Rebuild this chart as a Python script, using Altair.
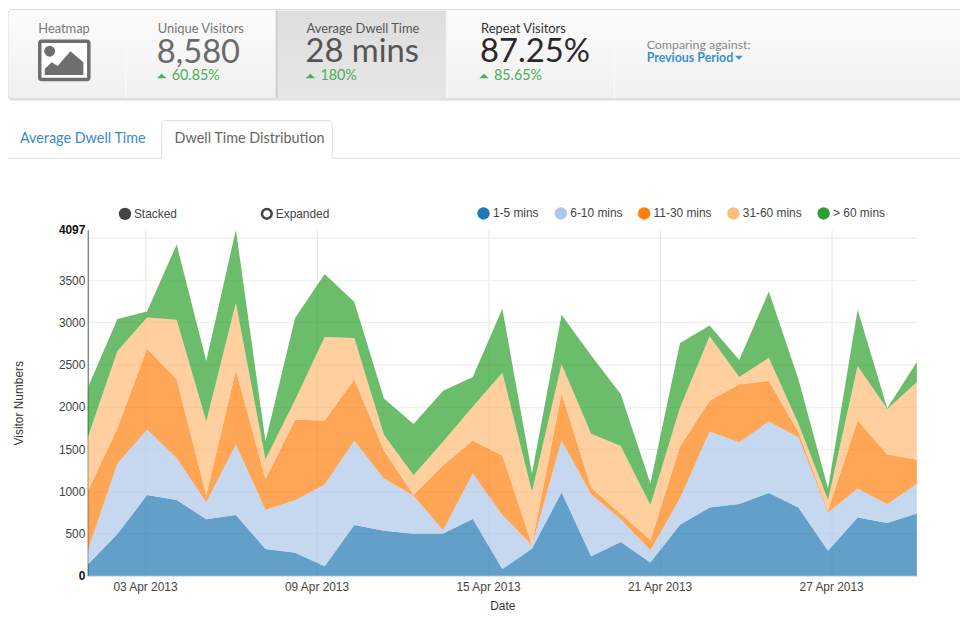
import altair as alt
import pandas as pd

series_names = ["1-5 mins", "6-10 mins", "11-30 mins", "31-60 mins", "> 60 mins"]
series_colors = ["#1f77b4", "#aec7e8", "#ff7f0e", "#ffbb78", "#2ca02c"]
mins_1_5 = [133, 494, 955, 897, 670, 720, 317, 274, 114, 600, 533, 497, 501, 673, 79, 321, 987, 231, 400, 156, 603, 807, 850, 979, 807, 297, 690, 626, 737]
mins_6_10 = [169, 834, 776, 497, 200, 831, 466, 619, 967, 998, 619, 451, 39, 537, 641, 40, 615, 733, 270, 146, 314, 901, 732, 846, 834, 453, 344, 220, 352]
mins_11_30 = [698, 422, 956, 929, 80, 881, 360, 955, 756, 725, 332, 7, 768, 388, 705, 4, 556, 78, 60, 118, 613, 364, 686, 482, 59, 20, 803, 591, 286]
mins_31_60 = [641, 910, 372, 709, 875, 796, 235, 232, 991, 493, 185, 235, 282, 402, 980, 630, 345, 638, 805, 418, 460, 764, 86, 274, 100, 127, 646, 537, 920]
mins_60_up = [588, 380, 71, 889, 717, 869, 216, 971, 744, 424, 431, 608, 600, 354, 756, 215, 587, 928, 615, 255, 767, 128, 199, 783, 527, 137, 666, 8, 235]
all_series = [mins_1_5, mins_6_10, mins_11_30, mins_31_60, mins_60_up]
dates = pd.date_range("2013-04-01", "2013-04-30", periods=29)
y_ticks = [0, 500, 1000, 1500, 2000, 2500, 3000, 3500, 4000, 4097]
x_tick_days = [3, 9, 15, 21, 27]

rows = []
for rank, (name, vals) in enumerate(zip(series_names, all_series)):
    for d, v in zip(dates, vals):
        rows.append({"date": d.strftime("%Y-%m-%dT%H:%M:%S"), "series": name, "rank": rank, "value": v})
df = pd.DataFrame(rows)

OX, OY = 88.5, 229.0
FONT = "Liberation Sans"
HEAD = "Lato"
one = pd.DataFrame({"n": [0]})


def rect(x0, y0, x1, y1, **kw):
    return alt.Chart(one).mark_rect(**kw).encode(
        x=alt.value(x0 - OX), x2=alt.value(x1 - OX), y=alt.value(y0 - OY), y2=alt.value(y1 - OY))


def text(s, x, y, size, color, font=HEAD, weight="normal", align="left"):
    return alt.Chart(one).mark_text(text=s, font=font, fontSize=size, color=color, fontWeight=weight,
                                    align=align, baseline="middle").encode(x=alt.value(x - OX), y=alt.value(y - OY))


def glyph(x, y, shape, size, color, **kw):
    return alt.Chart(one).mark_point(shape=shape, size=size, **kw).encode(
        x=alt.value(x - OX), y=alt.value(y - OY), color=alt.value(color))


def vgrad(a, b):
    return alt.Gradient(gradient="linear", x1=0, y1=0, x2=0, y2=1,
                        stops=[alt.GradientStop(offset=0, color=a), alt.GradientStop(offset=1, color=b)])


UP = "M-1,0.5L0,-0.5L1,0.5Z"
DOWN = "M-1,-0.5L0,0.5L1,-0.5Z"
MOUNTAIN = "M-1,0.615L-1,0.31L-0.64,-0.05L-0.33,0.15L0.33,-0.615L1,-0.05L1,0.615Z"
GREEN = "#4cae58"

header = [
    rect(8, 9, 975, 99, fill="#e4e4e4", cornerRadius=4),
    rect(8, 7, 975, 97, fill=vgrad("#fcfcfc", "#f0f0f0"), stroke="#dcdcdc", strokeWidth=1, cornerRadius=4),
    rect(278, 8, 451, 96.5, fill=vgrad("#dedede", "#e6e6e6")),
    rect(278, 8, 280, 96.5, fill="#cfcfcf"),
    rect(449.5, 8, 451.5, 96.5, fill="#f6f6f6"),
    rect(126.5, 8, 127.5, 96.5, fill="#fafafa"),
    rect(619, 8, 620, 96.5, fill="#fafafa"),
    text("Heatmap", 38.5, 27, 13, "#777777"),
    rect(40, 39, 89.5, 77.5, fill="#ffffff", stroke="#6e6e6e", strokeWidth=3.5, cornerRadius=2),
    glyph(50, 49, "circle", 120, "#6e6e6e", filled=True, opacity=1),
    glyph(64.5, 61, MOUNTAIN, 1521, "#6e6e6e", filled=True, opacity=1),
    text("Unique Visitors", 159, 27, 13, "#777777"),
    text("8,580", 158, 51, 33, "#6a6a6a"),
    glyph(163, 74, UP, 90, GREEN, filled=True, opacity=1),
    text("60.85%", 173, 74, 14.5, GREEN),
    text("Average Dwell Time", 309, 27, 13, "#555555"),
    text("28 mins", 308, 50, 33, "#555555"),
    glyph(313, 74, UP, 90, GREEN, filled=True, opacity=1),
    text("180%", 323, 74, 14.5, GREEN),
    text("Repeat Visitors", 485, 27, 13, "#333333"),
    text("87.25%", 484, 50, 33, "#2a2a2a"),
    glyph(488, 74, UP, 90, GREEN, filled=True, opacity=1),
    text("85.65%", 498, 74, 14.5, GREEN),
    text("Comparing against:", 652, 43, 12.5, "#888888"),
    text("Previous Period", 652, 56, 12.5, "#3a8fd2", weight="bold"),
    glyph(745, 55.5, DOWN, 64, "#3a8fd2", filled=True, opacity=1),
    rect(6, 156.5, 975, 157.5, fill="#e0e0e0"),
    rect(163, 119, 335, 158, fill="#ffffff", stroke="#dddddd", strokeWidth=1, cornerRadius=3),
    rect(163.5, 155.5, 334.5, 159, fill="#ffffff"),
    text("Average Dwell Time", 20, 137.5, 14.5, "#3a8ac4"),
    text("Dwell Time Distribution", 176, 137.5, 14.5, "#666666"),
    glyph(126, 213, "circle", 156, "#444444", filled=True, opacity=1),
    text("Stacked", 135, 213.5, 12, "#444444", font=FONT),
    alt.Chart(one).mark_point(shape="circle", size=95, filled=False, stroke="#444444", strokeWidth=2.5, opacity=1).encode(
        x=alt.value(269 - OX), y=alt.value(213 - OY)),
    text("Expanded", 278, 213.5, 12, "#444444", font=FONT),
]

bold_test = "datum.value == 4097 || datum.value == 0"
areas = (
    alt.Chart(df)
    .transform_stack(stack="value", groupby=["date"], sort=[alt.SortField("rank", order="ascending")], as_=["y0", "y1"])
    .mark_area(opacity=0.7, interpolate="linear")
    .encode(
        x=alt.X(
            "date:T",
            title="Date",
            scale=alt.Scale(domain=[alt.DateTime(year=2013, month="april", date=1),
                                    alt.DateTime(year=2013, month="april", date=30)]),
            axis=alt.Axis(
                values=[alt.DateTime(year=2013, month="april", date=d) for d in x_tick_days],
                format="%d %b %Y", labelFont=FONT, labelFontSize=12, labelColor="#444444",
                titleFont=FONT, titleFontSize=12, titleColor="#333333", titleFontWeight="normal", titlePadding=8,
                tickSize=0, labelPadding=6, domainColor="#e2e2e2", domainWidth=1.5,
                grid=True, gridColor="#e6e6e6", gridWidth=1, labelFlush=False, labelOverlap=False,
            ),
        ),
        y=alt.Y(
            "y0:Q",
            title="Visitor Numbers",
            scale=alt.Scale(domain=[0, 4097], nice=False, zero=True),
            axis=alt.Axis(
                values=y_ticks, format="d",
                labelExpr="datum.value == 4000 ? '' : datum.label",
                labelFont=FONT, labelFontSize=12, labelPadding=3,
                labelColor=alt.condition(bold_test, alt.value("#111111"), alt.value("#444444")),
                labelFontWeight=alt.condition(bold_test, alt.value("bold"), alt.value("normal")),
                titleFont=FONT, titleFontSize=12, titleColor="#333333", titleFontWeight="normal",
                titleX=-69.5, titleY=174.5, titleAngle=270, titleAlign="center", titleBaseline="middle",
                tickSize=0, domainColor="#888888", domainWidth=1.5,
                grid=True, gridColor="#eeeeee", gridWidth=1.2,
                gridOpacity=alt.condition("datum.value == 4097", alt.value(0), alt.value(1)),
                labelOverlap=False, labelBound=False,
            ),
        ),
        y2="y1:Q",
        color=alt.Color(
            "series:N",
            scale=alt.Scale(domain=series_names, range=series_colors),
            legend=alt.Legend(
                orient="none", legendX=392.5, legendY=-23, direction="horizontal", columns=5, title=None,
                symbolType="circle", symbolSize=156, symbolOpacity=1, symbolStrokeWidth=0,
                labelFont=FONT, labelFontSize=12, labelColor="#444444", labelOffset=3, columnPadding=15,
            ),
        ),
    )
)

chart = (
    alt.layer(areas, *header)
    .properties(width=836, height=349, background="#ffffff", autosize=alt.AutoSizeParams(type="none"),
                padding={"left": 80.5, "top": 221, "right": 43.5, "bottom": 39})
    .configure_view(stroke=None)
)
chart.save("out.html", embed_options={"renderer": "svg", "actions": False})
